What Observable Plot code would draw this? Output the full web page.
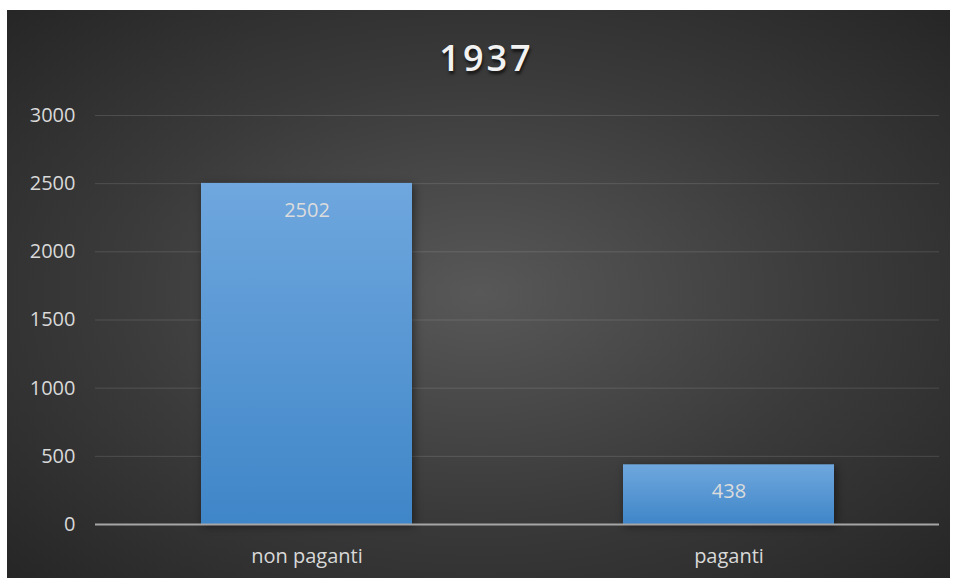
<!DOCTYPE html>
<html>
<head>
<meta charset="utf-8">
<script src="https://cdn.jsdelivr.net/npm/d3@7"></script>
<script src="https://cdn.jsdelivr.net/npm/@observablehq/plot@0.6"></script>
<style>
  html, body { margin: 0; padding: 0; background: #ffffff; }
  #frame {
    position: absolute; left: 7px; top: 10px; width: 943px; height: 568px;
    background: radial-gradient(ellipse farthest-corner at 50% 50%, #585858 0%, #3a3a3a 55%, #262626 100%);
    overflow: hidden;
  }
  #title {
    height: 80px; box-sizing: border-box; padding-top: 26px; padding-left: 16px;
    text-align: center; font-family: "Open Sans", sans-serif; font-weight: 600;
    font-size: 36px; line-height: 44px; letter-spacing: 3px; color: #f2f2f2;
    text-shadow: 1px 3px 3px rgba(0,0,0,0.65);
  }
  #chart svg g[aria-label="bar"] rect { filter: drop-shadow(2px 2px 4px rgba(0,0,0,0.45)); }
</style>
</head>
<body>
<div id="frame">
  <div id="title">1937</div>
  <div id="chart"></div>
</div>
<script>
const categories = ["non paganti", "paganti"];
const values = [2502, 438];
const yTicks = [0, 500, 1000, 1500, 2000, 2500, 3000];

const data = categories.map((c, i) => ({category: c, value: values[i]}));

const defs = () => {
  const d = d3.create("svg:defs");
  const g = d.append("linearGradient").attr("id", "barGrad")
    .attr("x1", 0).attr("y1", 0).attr("x2", 0).attr("y2", 1);
  g.append("stop").attr("offset", "0%").attr("stop-color", "#6fa7de");
  g.append("stop").attr("offset", "100%").attr("stop-color", "#3f86c8");
  return d.node();
};

const chart = Plot.plot({
  width: 943,
  height: 488,
  marginTop: 25,
  marginBottom: 54,
  marginLeft: 88,
  marginRight: 11,
  style: {background: "transparent", color: "#d9d9d9", fontFamily: "'Open Sans', sans-serif", fontSize: "20px"},
  x: {domain: categories, paddingInner: 0.5, paddingOuter: 0.25, label: null},
  y: {domain: [0, 3000], label: null},
  marks: [
    defs,
    Plot.gridY(yTicks, {stroke: "#ffffff", strokeOpacity: 0.13, strokeWidth: 1}),
    Plot.barY(data, {x: "category", y: "value", fill: "url(#barGrad)"}),
    Plot.ruleY([0], {stroke: "#a6a6a6", strokeWidth: 2}),
    Plot.text(data, {x: "category", y: "value", text: d => String(d.value), dy: 27, fill: "#dcdcdc", fontSize: 20}),
    Plot.axisY(yTicks, {tickSize: 0, tickPadding: 20, tickFormat: d => String(d), label: null, fill: "#d9d9d9", fontSize: 20}),
    Plot.axisX({tickSize: 0, tickPadding: 24, label: null, fill: "#d9d9d9", fontSize: 20})
  ]
});
document.getElementById("chart").appendChild(chart);
</script>
</body>
</html>
